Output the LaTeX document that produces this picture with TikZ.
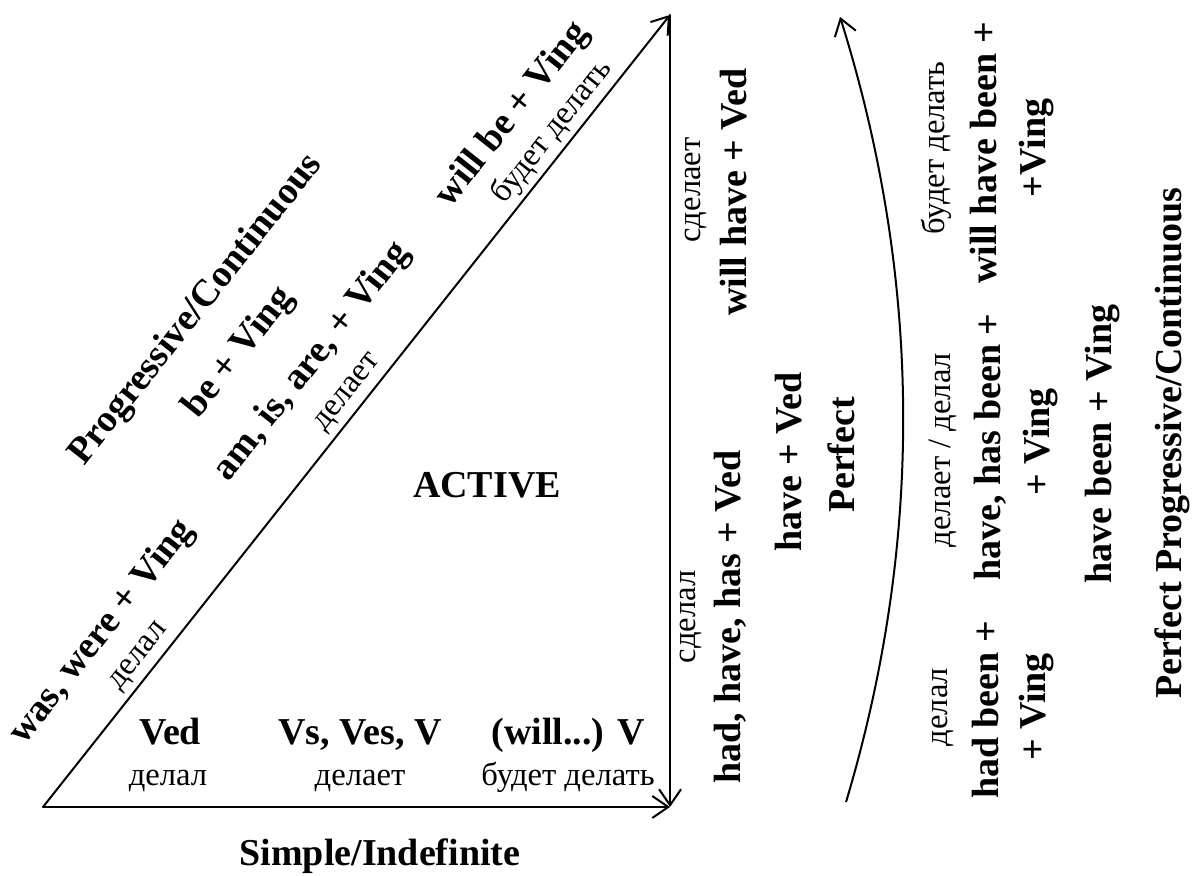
\documentclass[tikz,border=0pt]{standalone}
\usepackage{fontspec}
\setmainfont{Liberation Serif}
\usepackage{tkz-euclide}
\usetikzlibrary{arrows.meta,calc}

\tikzset{
  boldlbl/.style={font=\fontsize{19}{22}\selectfont\bfseries, inner sep=0pt},
  plainlbl/.style={font=\fontsize{16.3}{19}\selectfont, inner sep=0pt},
  slant/.style={rotate=51.63},
  vert/.style={rotate=90, anchor=base},
  arr/.style={line width=1pt, -{Straight Barb[length=8pt,width=11pt]}}
}

\begin{document}
\begin{tikzpicture}[scale=0.1757]
		\useasboundingbox (0,0) rectangle (119.6,87.6);
		\tkzDefPoint(4.3,6.9){A}
		\tkzDefPoint(67,6.9){B}
		\tkzDefPoint(67,86.1){C}
		\tkzDefPoint(84.6,7.4){P}
		\tkzDefPoint(92.4,33.5){K1}
		\tkzDefPoint(92.2,59.7){K2}
		\tkzDefPoint(84.0,85.9){Q}
		\tkzDrawSegment[arr](A,C)
		\tkzDrawSegment[arr](C,B)
		\tkzDrawSegment[arr](A,B)
		\draw[arr] (P) .. controls (K1) and (K2) .. (Q);
		% along the hypotenuse (offsets are in unscaled pt)
		\node[boldlbl, slant] (wasv) at ($(A)!0.172!(C)!176pt!90:(C)$) {was, were + Ving};
		\node[plainlbl, slant] (wasr) at ($(A)!0.176!(C)!48pt!90:(C)$) {делал};
		\node[boldlbl, slant] (prog) at ($(A)!0.48!(C)!535pt!90:(C)$) {Progressive/Continuous};
		\node[boldlbl, slant] (bev) at ($(A)!0.473!(C)!364pt!90:(C)$) {be + Ving};
		\node[boldlbl, slant] (amv) at ($(A)!0.511!(C)!185pt!90:(C)$) {am, is, are, + Ving};
		\node[plainlbl, slant] (amr) at ($(A)!0.509!(C)!48pt!90:(C)$) {делает};
		\node[boldlbl, slant] (willv) at ($(A)!0.826!(C)!174pt!90:(C)$) {will be + Ving};
		\node[plainlbl, slant] (willr) at ($(A)!0.837!(C)!57pt!90:(C)$) {будет делать};
		% bottom row
		\node[boldlbl, anchor=base] (ved) at (17.0,13.1) {Ved};
		\node[plainlbl, anchor=base] (vedr) at (16.8,9.0) {делал};
		\node[boldlbl, anchor=base] (vs) at (36.0,13.1) {Vs, Ves, V};
		\node[plainlbl, anchor=base] (vsr) at (36.0,9.0) {делает};
		\node[boldlbl, anchor=base] (willvb) at (56.8,13.1) {(will...) V};
		\node[plainlbl, anchor=base] (willrb) at (56.8,9.0) {будет делать};
		\node[boldlbl, anchor=base] (active) at (48.7,37.8) {ACTIVE};
		\node[boldlbl, anchor=base] (simple) at (38.0,1.0) {Simple/Indefinite};
		% perfect
		\node[plainlbl, vert] (hadr) at (69.5,25.9) {сделал};
		\node[boldlbl, vert] (hadv) at (74.0,25.9) {had, have, has + Ved};
		\node[plainlbl, vert] (whr) at (70.0,68.6) {сделает};
		\node[boldlbl, vert] (whv) at (74.6,68.4) {will have + Ved};
		\node[boldlbl, vert] (havev) at (80.1,41.4) {have + Ved};
		\node[boldlbl, vert] (perf) at (85.4,42.1) {Perfect};
		% perfect progressive
		\node[plainlbl, vert] (hbr) at (94.7,16.9) {делал};
		\node[boldlbl, vert] (hbv) at (99.8,16.6) {had been +};
		\node[boldlbl, vert] (hbi) at (104.5,16.9) {+ Ving};
		\node[plainlbl, vert] (hhr) at (95.0,42.6) {делает / делал};
		\node[boldlbl, vert] (hhv) at (100.0,42.9) {have, has been +};
		\node[boldlbl, vert] (hhi) at (104.9,43.4) {+ Ving};
		\node[plainlbl, vert] (whbr) at (94.4,72.8) {будет делать};
		\node[boldlbl, vert] (whbv) at (99.6,72.3) {will have been +};
		\node[boldlbl, vert] (whbi) at (104.5,72.8) {+Ving};
		\node[boldlbl, vert] (hbe) at (111.1,43.2) {have been + Ving};
		\node[boldlbl, vert] (pprog) at (118.1,43.3) {Perfect Progressive/Continuous};
	\end{tikzpicture}
\end{document}
